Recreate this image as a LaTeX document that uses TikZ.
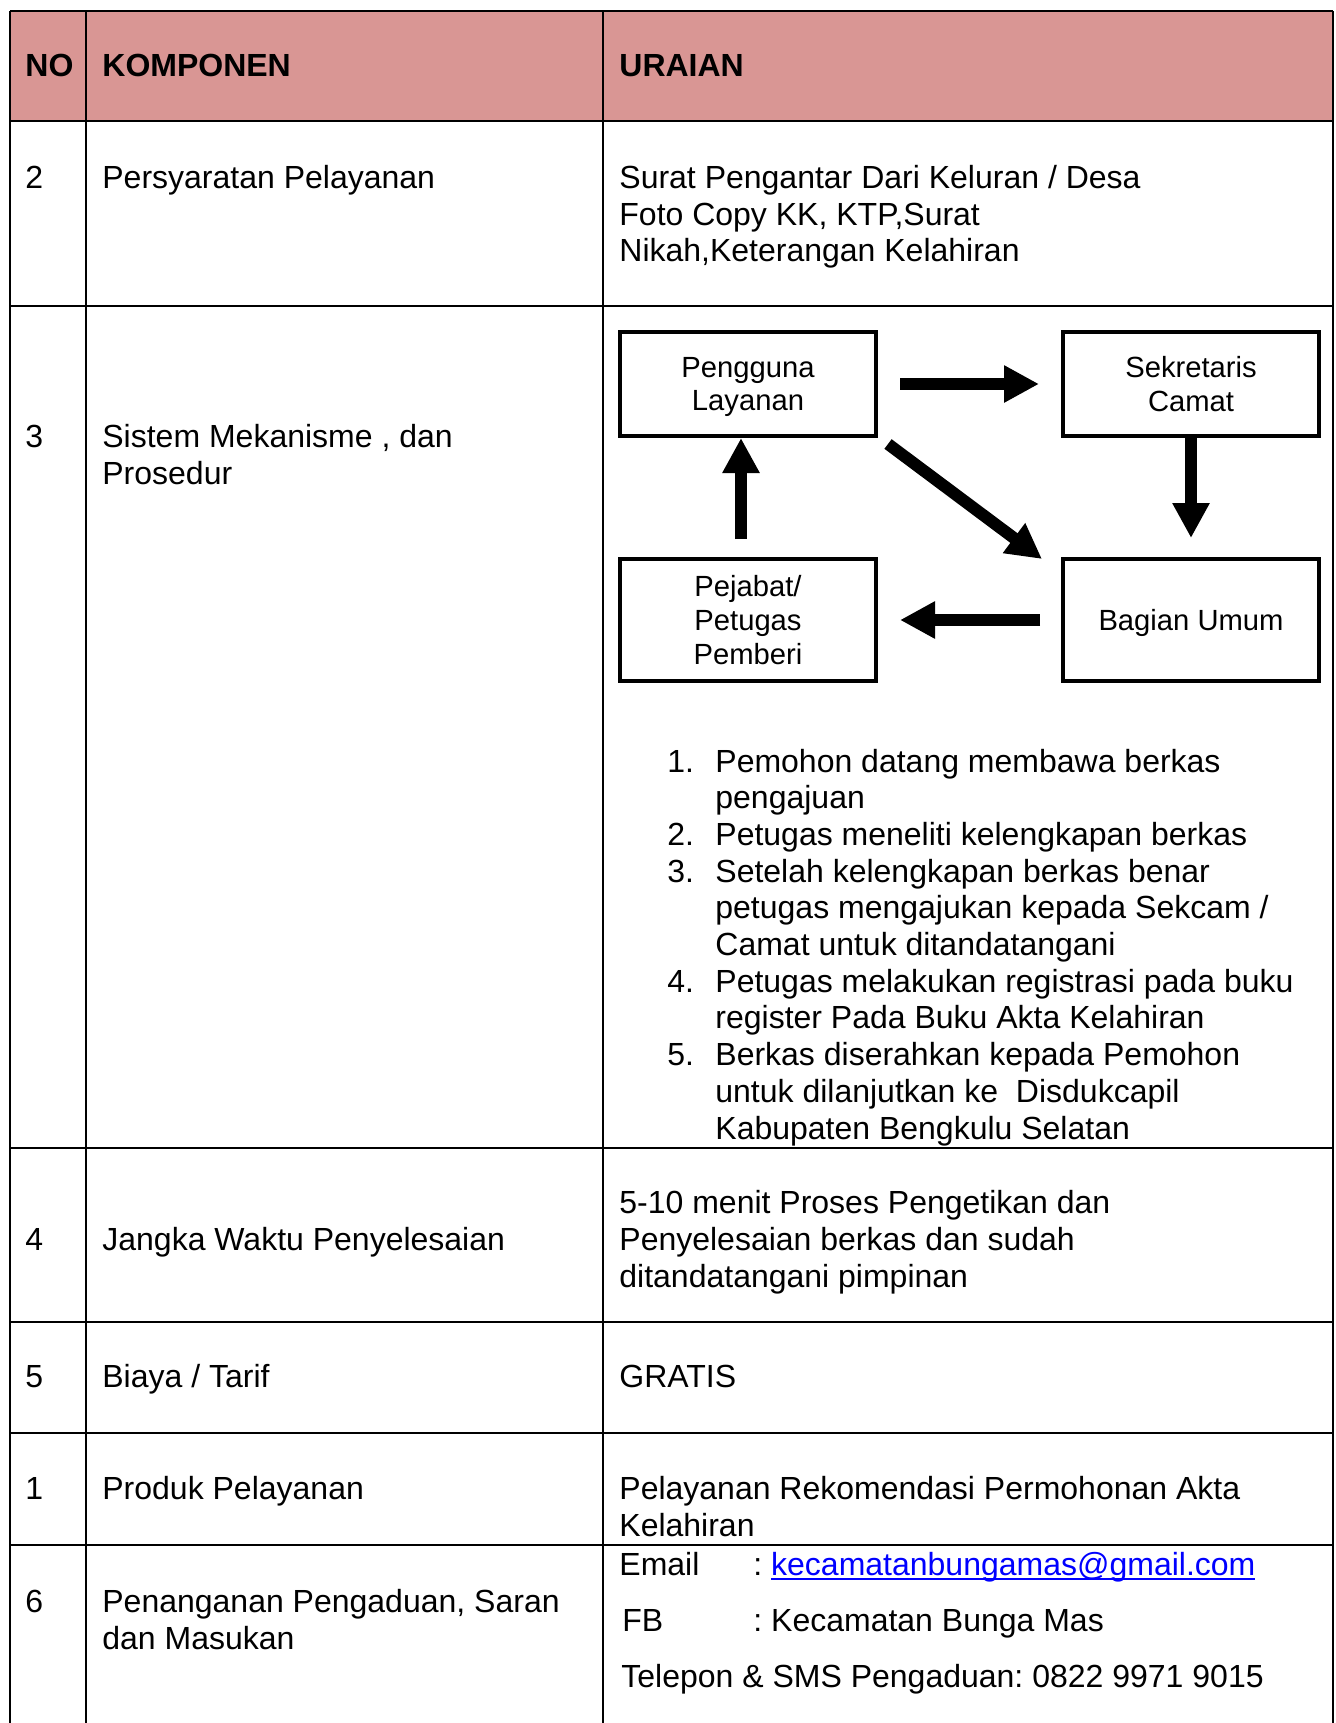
\documentclass[tikz,border=0pt]{standalone}
\usepackage{fontspec}
\setmainfont{Liberation Sans}
\usepackage{xcolor}
\usetikzlibrary{arrows.meta, positioning}

\definecolor{kepala}{HTML}{D99694}
\definecolor{tautanbiru}{RGB}{0,0,255}
\newlength{\panjangtautan}
\newcommand{\tautan}[1]{\settowidth{\panjangtautan}{#1}\textcolor{tautanbiru}{\rlap{\rule[-2.5pt]{\panjangtautan}{1pt}}#1}}

\begin{document}
\frenchspacing
\begin{tikzpicture}[
    x=0.5pt, y=-0.5pt,
    garis/.style={line width=1pt},
    teks/.style={anchor=base west, inner sep=0pt, font=\fontsize{16pt}{18.35pt}\selectfont},
    teksblok/.style={teks, anchor=north west, align=left},
    judul/.style={teks, font=\fontsize{16pt}{18.35pt}\selectfont\bfseries},
    kotak/.style={draw, rectangle, line width=2pt, outer sep=0pt, minimum width=128pt, align=center, text depth=0pt, font=\fontsize{14.6pt}{16.8pt}\selectfont},
    panah/.style={line width=6pt, -{Triangle[length=17.5pt, width=17.5pt]}}
]

\useasboundingbox (0,0) rectangle (1336,1723);
\fill[white] (0,0) rectangle (1336,1723);

% Table
\fill[kepala] (10,11) rectangle (1333,121);
\foreach \y in {11,121,306,1148,1322,1433,1545}
    \draw[garis] (10,\y) -- (1333,\y);
\foreach \x in {10,86,603,1333}
    \draw[garis] (\x,11) -- (\x,1723);

% Header
\node[judul] (no) at (25,77) {NO};
\node[judul] (komponen) at (102,77) {KOMPONEN};
\node[judul] (uraian) at (619,77) {URAIAN};

% Persyaratan
\node[teks] (no2) at (25,188) {2};
\node[teks] (syarat) at (102,188) {Persyaratan Pelayanan};
\node[teksblok] (syaratisi) at (619,165) {Surat Pengantar Dari Keluran / Desa\\Foto Copy KK, KTP,Surat\\Nikah,Keterangan Kelahiran};

% Sistem, mekanisme
\node[teks] (no3) at (25,447) {3};
\node[teksblok] (sistem) at (102,424) {Sistem Mekanisme , dan\\Prosedur};

\node[kotak, minimum height=52pt] (pengguna) at (748,384) {Pengguna\\Layanan};
\node[kotak, minimum height=52pt, right=93.5pt of pengguna] (sekretaris) {Sekretaris\\Camat};
\node[kotak, minimum height=61pt, below=61.5pt of pengguna] (pejabat) {Pejabat/\\Petugas\\Pemberi};
\node[kotak, minimum height=61pt, right=93.5pt of pejabat] (bagian) {Bagian Umum};

\draw[panah, shorten <=12pt, shorten >=12pt] (pengguna.east) -- (sekretaris.west);
\draw[panah, shorten >=10.5pt] (sekretaris.south) -- (bagian.north);
\draw[panah, shorten <=11.5pt, shorten >=12pt] (bagian.west) -- (pejabat.east);
\draw[panah, shorten <=10pt, shorten >=1pt] ([xshift=-3.5pt]pejabat.north) -- ([xshift=-3.5pt]pengguna.south);
\draw[panah] ([shift={(6pt,-4pt)}]pengguna.south east) -- ([shift={(-10.5pt,0pt)}]bagian.north west);

\node[teks] (langkah) at (667,772) {\begin{tabular}[t]{@{}p{24pt}@{}l@{}}
1. & Pemohon datang membawa berkas\\
   & pengajuan\\
2. & Petugas meneliti kelengkapan berkas\\
3. & Setelah kelengkapan berkas benar\\
   & petugas mengajukan kepada Sekcam /\\
   & Camat untuk ditandatangani\\
4. & Petugas melakukan registrasi pada buku\\
   & register Pada Buku Akta Kelahiran\\
5. & Berkas diserahkan kepada Pemohon\\
   & untuk dilanjutkan ke\ \ Disdukcapil\\
   & Kabupaten Bengkulu Selatan
\end{tabular}};

% Jangka waktu
\node[teks] (no4) at (25,1250) {4};
\node[teks] (waktu) at (102,1250) {Jangka Waktu Penyelesaian};
\node[teksblok] (waktuisi) at (619,1190) {5-10 menit Proses Pengetikan dan\\Penyelesaian berkas dan sudah\\ditandatangani pimpinan};

% Biaya
\node[teks] (no5) at (25,1387) {5};
\node[teks] (biaya) at (102,1387) {Biaya / Tarif};
\node[teks] (biayaisi) at (619,1387) {GRATIS};

% Produk
\node[teks] (no1) at (25,1499) {1};
\node[teks] (produk) at (102,1499) {Produk Pelayanan};
\node[teksblok] (produkisi) at (619,1476) {Pelayanan Rekomendasi Permohonan Akta\\Kelahiran};

% Pengaduan
\node[teks] (no6) at (25,1612) {6};
\node[teksblok] (aduan) at (102,1589) {Penanganan Pengaduan, Saran\\dan Masukan};
\node[teks] (email) at (619,1575) {\makebox[67pt][l]{Email}: \tautan{kecamatanbungamas@gmail.com}};
\node[teks] (fb) at (622,1631) {\makebox[65.5pt][l]{FB}: Kecamatan Bunga Mas};
\node[teks] (telepon) at (621,1687) {Telepon \& SMS Pengaduan: 0822 9971 9015};

\end{tikzpicture}
\end{document}
